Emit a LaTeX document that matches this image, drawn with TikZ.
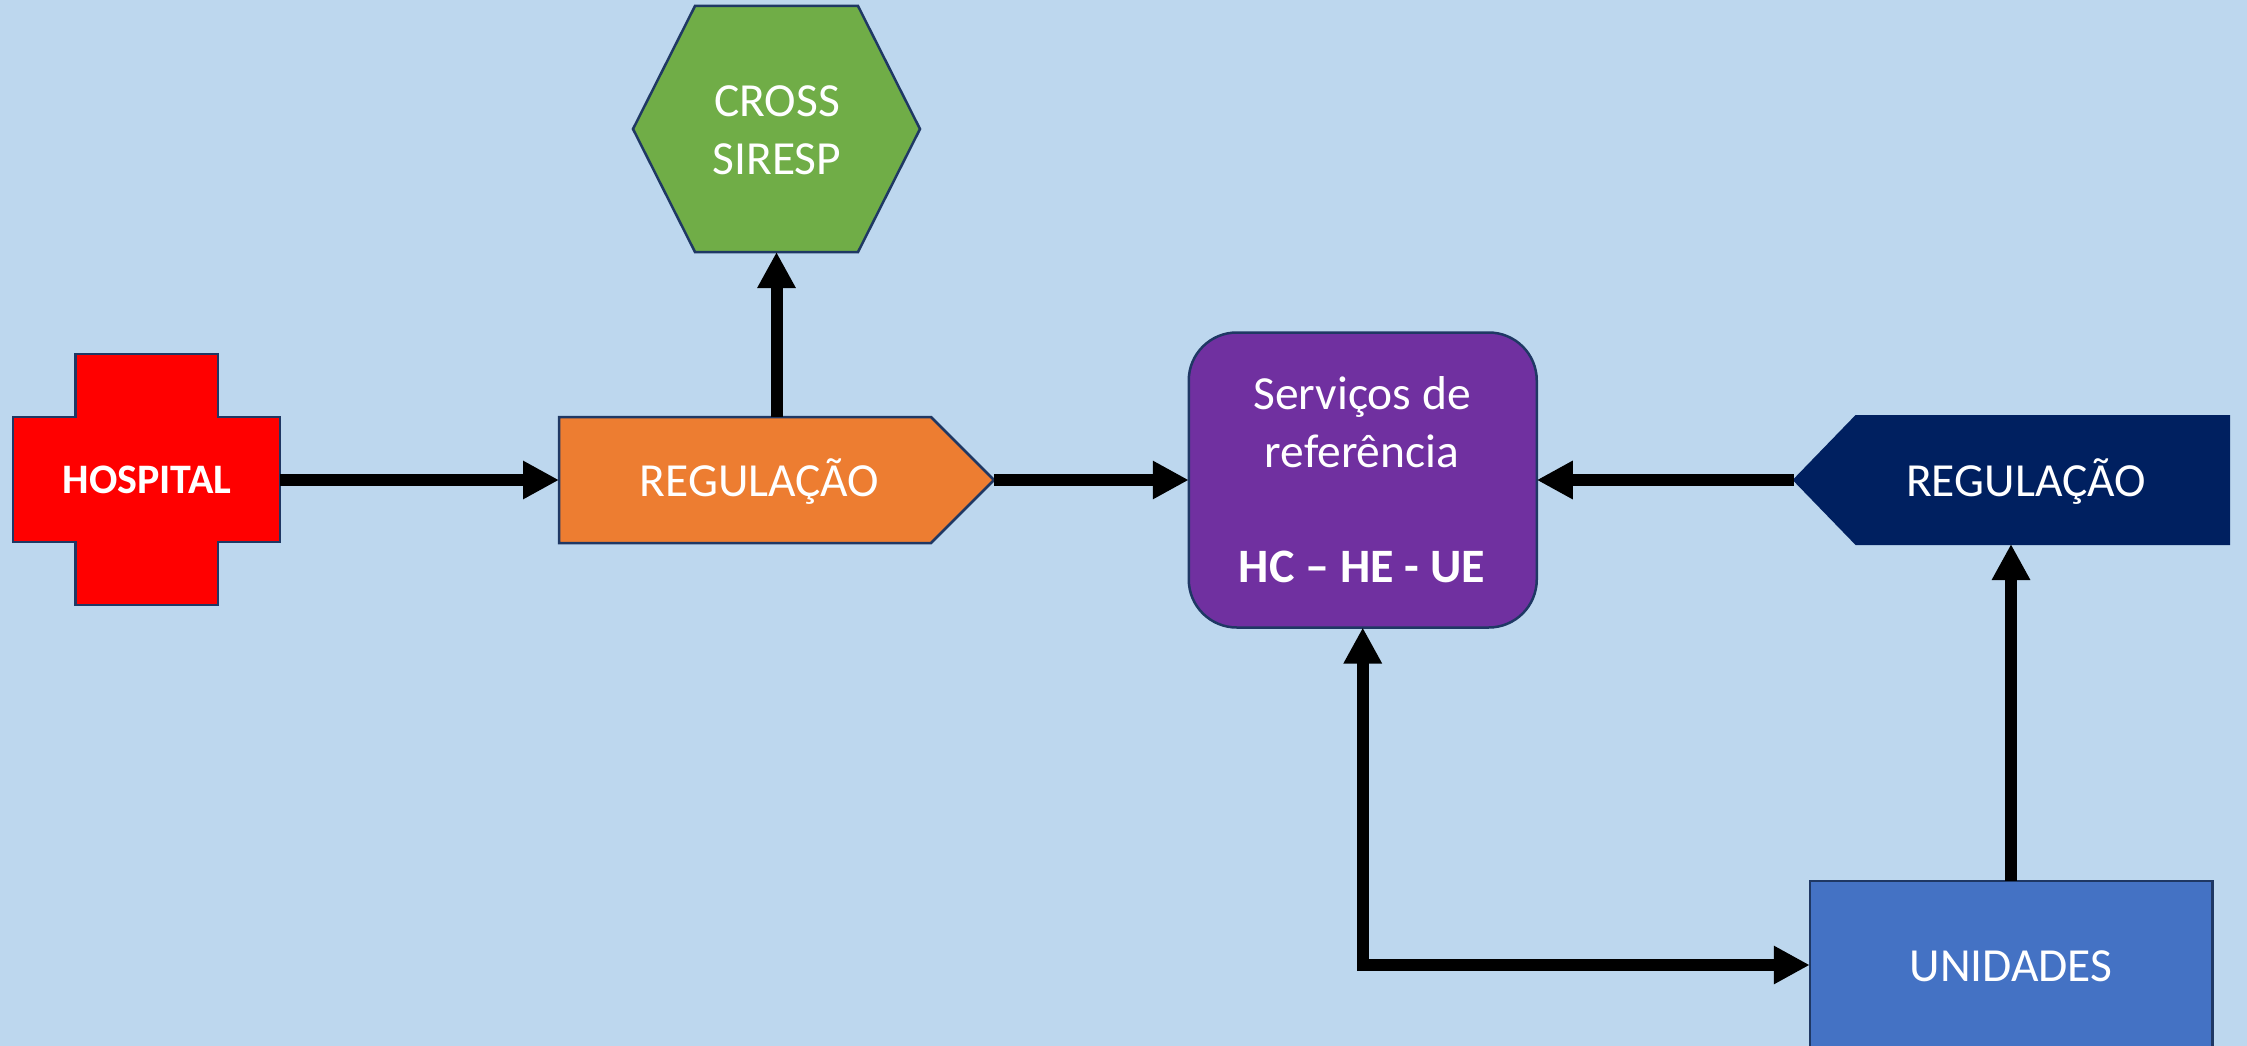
\documentclass[tikz,border=0pt]{standalone}
\usepackage{fontspec}
\setmainfont{Carlito}
\usetikzlibrary{arrows.meta}
\definecolor{pagebg}{HTML}{BDD7EE}
\definecolor{edgeblue}{HTML}{1F3864}
\definecolor{hospred}{HTML}{FF0000}
\definecolor{regorange}{HTML}{ED7D31}
\definecolor{crossgreen}{HTML}{70AD47}
\definecolor{servpurple}{HTML}{7030A0}
\definecolor{regnavy}{HTML}{002060}
\definecolor{uniblue}{HTML}{4472C4}
\tikzset{
  frame/.style={inner sep=0pt,outer sep=0pt,minimum width=#1},
  shapeline/.style={draw=edgeblue,line width=2.5pt,line join=miter},
  label/.style={text=white,inner sep=0pt,outer sep=0pt,anchor=base,align=center,
    font=\fontsize{47.5}{58}\selectfont},
  conn/.style={line width=12pt,-{Triangle[length=36pt,width=36pt]}},
  conn2/.style={line width=12pt,{Triangle[length=36pt,width=36pt]}-{Triangle[length=36pt,width=36pt]}}
}
\begin{document}
\begin{tikzpicture}[x=1pt,y=-1pt]
\useasboundingbox (0,0) rectangle (2247,1046);
\clip (0,0) rectangle (2247,1046);
\fill[pagebg] (0,0) rectangle (2247,1046);

% frames carrying the connector anchors
\node[frame=267pt,minimum height=251pt] (hosp) at (146.5,480) {};
\node[frame=435pt,minimum height=126pt] (regA) at (776.5,480) {};
\node[frame=287pt,minimum height=246pt] (cross) at (776.5,129) {};
\node[frame=348pt,minimum height=295pt,shapeline,fill=servpurple,rounded corners=48pt] (serv) at (1362.75,480) {};
\node[frame=435pt,minimum height=128pt] (regB) at (2011.5,480) {};
\node[frame=402.5pt,minimum height=168pt,shapeline,fill=uniblue] (unid) at (2011,965) {};

% hospital cross
\draw[shapeline,fill=hospred]
  (75.5,354) -- (218,354) -- (218,417) -- (280,417) -- (280,542) -- (218,542)
  -- (218,605) -- (75.5,605) -- (75.5,542) -- (13,542) -- (13,417) -- (75.5,417) -- cycle;
% orange pentagon
\draw[shapeline,fill=regorange]
  (559,417) -- (931,417) -- (994,480) -- (931,543) -- (559,543) -- cycle;
% green hexagon
\draw[shapeline,fill=crossgreen]
  (695,6) -- (858,6) -- (920,129) -- (858,252) -- (695,252) -- (633,129) -- cycle;
% navy pentagon
\draw[draw=regnavy,line width=2pt,fill=regnavy]
  (1856,416) -- (2229,416) -- (2229,544) -- (1856,544) -- (1794,480) -- cycle;

% connectors
\draw[conn] (hosp.east) -- (regA.west);
\draw[conn] (regA.north) -- (cross.south);
\draw[conn] (regA.east) -- (serv.west);
\draw[conn] (regB.west) -- (serv.east);
\draw[conn] (unid.north) -- (unid.north |- regB.south);
\draw[conn2] (serv.south) |- (unid.west);

% labels
\node[label,font=\fontsize{42}{58}\selectfont\bfseries] (hospT) at (147,493) {HOSPITAL};
\node[label] (regAT) at (759.5,496) {REGULAÇÃO};
\node[label] (crossT) at (777,117) {CROSS};
\node[label] (crossU) at (777,175) {SIRESP};
\node[label] (servT) at (1362,409) {Serviços de};
\node[label] (servU) at (1362,467) {referência};
\node[label,font=\fontsize{48}{58}\selectfont\bfseries] (servV) at (1362,582) {HC – HE - UE};
\node[label] (regBT) at (2026,496) {REGULAÇÃO};
\node[label] (unidT) at (2011,981) {UNIDADES};
\end{tikzpicture}
\end{document}
